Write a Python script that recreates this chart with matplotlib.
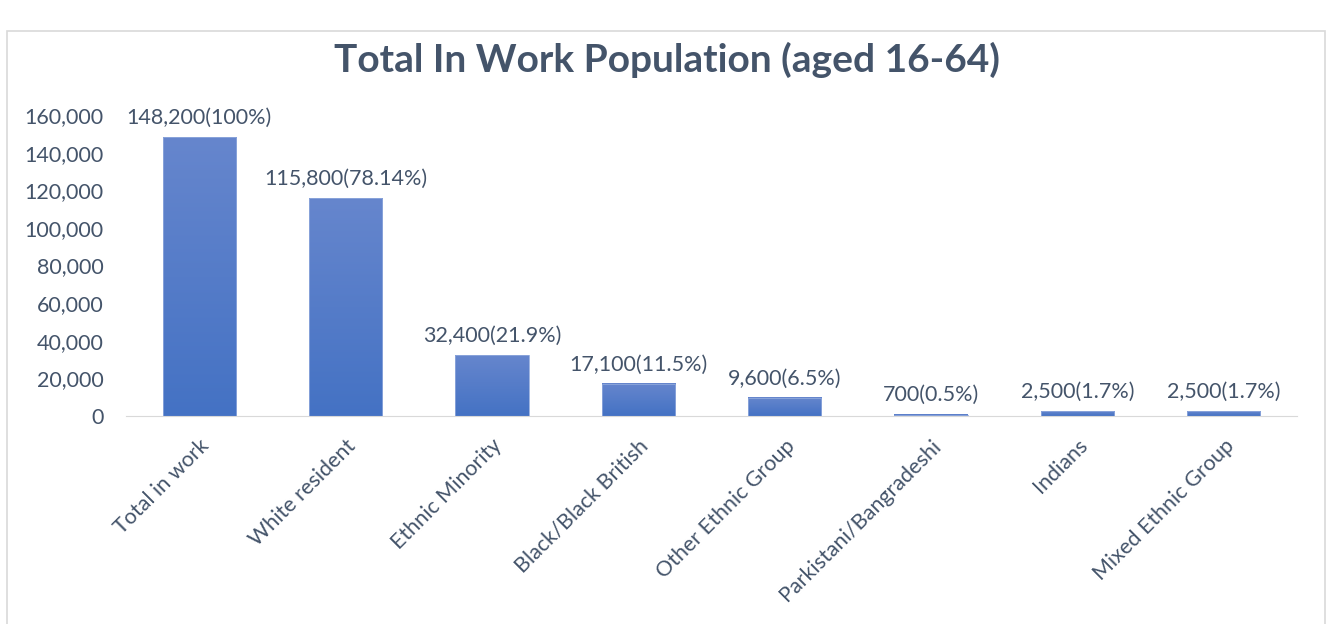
import numpy as np
import matplotlib.pyplot as plt
from matplotlib.patches import Rectangle
from matplotlib.colors import LinearSegmentedColormap
from matplotlib.ticker import FuncFormatter

# In-work population by ethnic group
groups = ["Total in work", "White resident", "Ethnic Minority", "Black/Black British",
          "Other Ethnic Group", "Parkistani/Bangradeshi", "Indians", "Mixed Ethnic Group"]
counts = [148200, 115800, 32400, 17100, 9600, 700, 2500, 2500]
shares = ["100%", "78.14%", "21.9%", "11.5%", "6.5%", "0.5%", "1.7%", "1.7%"]

text_col = "#44546A"
plt.rcParams["font.family"] = ["Lato", "DejaVu Sans"]

fig = plt.figure(figsize=(13.34, 6.24), dpi=100)
fig.patches.append(Rectangle((7 / 1334, -0.05), 1318 / 1334, 1.0, transform=fig.transFigure,
                             fill=False, edgecolor="#D9D9D9", linewidth=1.2))
ax = fig.add_axes([126 / 1334, 1 - 416 / 624, 1171 / 1334, 301 / 624])

x = np.arange(len(groups))
bars = ax.bar(x, counts, width=0.5, color="none", edgecolor="#8FA8DC", linewidth=0.6, zorder=3)

# vertical gradient inside each bar, lighter at the top
grad = LinearSegmentedColormap.from_list("bar", ["#4472C4", "#6686CD"])
g = np.linspace(0, 1, 256).reshape(-1, 1)
for b in bars:
    x0, w, h = b.get_x(), b.get_width(), b.get_height()
    ax.imshow(g, cmap=grad, aspect="auto", origin="lower",
              extent=[x0, x0 + w, 0, h], zorder=2)

for xi, c, s in zip(x, counts, shares):
    ax.text(xi, c + 5000, f"{c:,}({s})", ha="center", va="bottom",
            fontsize=15.5, color=text_col)

ax.set_xlim(-0.5, len(groups) - 0.5)
ax.set_ylim(0, 160000)
ax.set_yticks(range(0, 160001, 20000))
ax.yaxis.set_major_formatter(FuncFormatter(lambda v, p: f"{int(v):,}"))
ax.set_xticks(x)
ax.set_xticklabels(groups, rotation=45, ha="right", rotation_mode="anchor")
ax.tick_params(length=0, labelsize=15.5, colors=text_col)
ax.tick_params(axis="x", pad=14)
ax.tick_params(axis="y", pad=16)
for side in ["top", "right", "left"]:
    ax.spines[side].set_visible(False)
ax.spines["bottom"].set_color("#D9D9D9")

fig.text(667 / 1334, 1 - 60 / 624, "Total In Work Population (aged 16-64)",
         ha="center", va="center", fontsize=28, fontweight="bold", color=text_col)

fig.savefig("out.png", dpi=100)
